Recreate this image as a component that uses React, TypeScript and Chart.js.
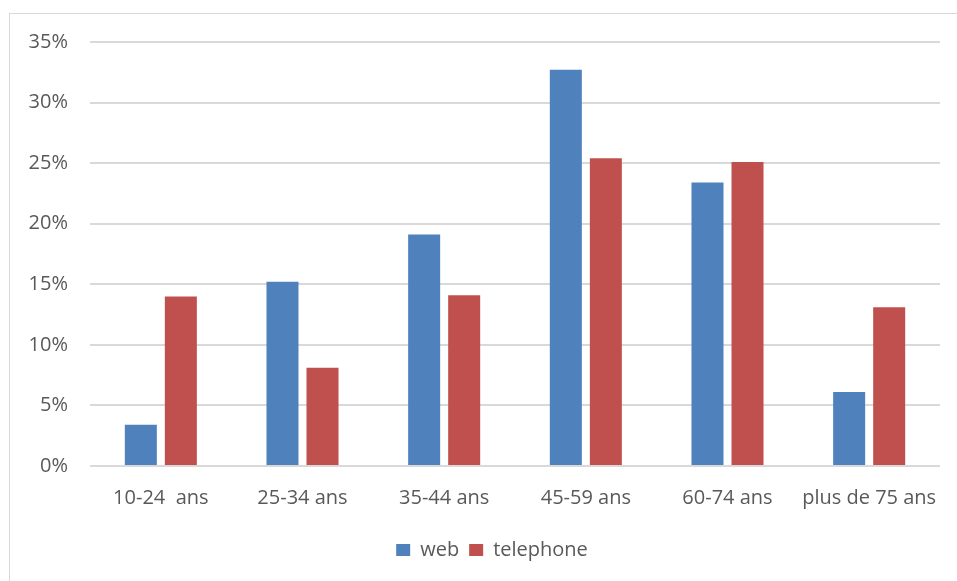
import React, { useEffect, useRef } from "react";
import { Chart, registerables } from "chart.js";

Chart.register(...registerables);

const categories = ["10-24  ans", "25-34 ans", "35-44 ans", "45-59 ans", "60-74 ans", "plus de 75 ans"];
const webValues = [3.4, 15.2, 19.1, 32.7, 23.4, 6.1];
const telephoneValues = [14.0, 8.1, 14.1, 25.4, 25.1, 13.1];
const yTicks = [0, 5, 10, 15, 20, 25, 30, 35];

const FONT = "'Open Sans', sans-serif";
const TEXT = "#595959";
const LEGEND_SHIFT = 17;

const legendShift = {
  id: "legendShift",
  afterUpdate(chart: any) {
    const lg = chart.legend;
    if (!lg) return;
    lg.left += LEGEND_SHIFT;
    lg.right += LEGEND_SHIFT;
    if (lg.adjustHitBoxes) lg.adjustHitBoxes();
  },
};

export default function App() {
  const ref = useRef<HTMLCanvasElement | null>(null);

  useEffect(() => {
    if (!ref.current) return;
    const chart = new Chart(ref.current, {
      type: "bar",
      data: {
        labels: categories,
        datasets: [
          {
            label: "web",
            data: webValues,
            backgroundColor: "#4F81BD",
            categoryPercentage: 0.565,
            barPercentage: 0.8,
          },
          {
            label: "telephone",
            data: telephoneValues,
            backgroundColor: "#C0504D",
            categoryPercentage: 0.565,
            barPercentage: 0.8,
          },
        ],
      },
      plugins: [legendShift],
      options: {
        animation: false,
        responsive: false,
        maintainAspectRatio: false,
        layout: { padding: { left: 10, right: 17, top: 42, bottom: 11 } },
        plugins: {
          legend: {
            position: "bottom",
            labels: {
              boxWidth: 14,
              boxHeight: 12,
              padding: 10,
              color: TEXT,
              font: { family: FONT, size: 20 },
            },
          },
          tooltip: { enabled: false },
        },
        scales: {
          x: {
            grid: { display: false },
            border: { display: false },
            ticks: {
              color: TEXT,
              font: { family: FONT, size: 20 },
              padding: 12,
              maxRotation: 0,
              autoSkip: false,
            },
            afterFit: (s: any) => {
              s.height = 64;
            },
          },
          y: {
            min: 0,
            max: 35,
            afterBuildTicks: (s: any) => {
              s.ticks = yTicks.map((v) => ({ value: v }));
            },
            grid: { color: "#d9d9d9", lineWidth: 2, drawTicks: false },
            border: { display: false },
            ticks: {
              color: TEXT,
              font: { family: FONT, size: 20 },
              padding: 22,
              callback: (v: any) => v + "%",
            },
            afterFit: (s: any) => {
              s.width = 80;
            },
          },
        },
      },
    });
    return () => chart.destroy();
  }, []);

  return (
    <div style={{ position: "fixed", left: 0, top: 0, width: 957, height: 581, overflow: "hidden", background: "#fff" }}>
      <div
        style={{
          position: "absolute",
          left: 9,
          top: 13,
          width: 1000,
          height: 1000,
          border: "1px solid #d9d9d9",
        }}
      />
      <canvas ref={ref} width={957} height={581} style={{ position: "absolute", left: 0, top: 0 }} />
    </div>
  );
}
